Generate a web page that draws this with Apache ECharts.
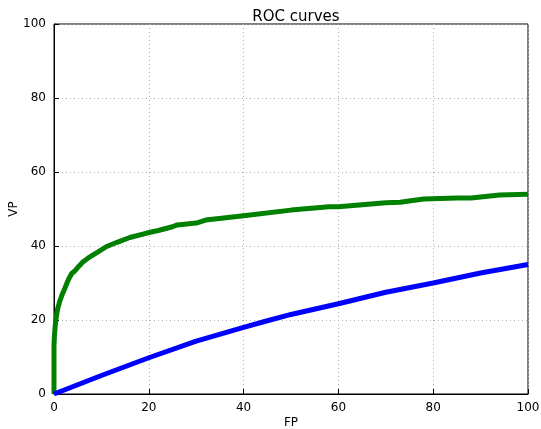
<!DOCTYPE html>
<html>
<head>
<meta charset="utf-8">
<script src="https://cdn.jsdelivr.net/npm/echarts@6/dist/echarts.min.js"></script>
<style>
  html, body { margin: 0; padding: 0; background: #fff; }
  #roc { width: 541px; height: 429px; }
</style>
</head>
<body>
<div id="roc"></div>
<script>
// FP (%) / VP (%)
const greenFP = [0, 0, 0.1, 0.3, 0.5, 0.8, 1.3, 1.8, 2.3, 3, 3.7, 4.5, 5.3, 6.1, 7.5, 9.3, 11, 13.3, 16, 19.6, 22, 25, 26, 30, 32, 40, 50, 58, 60, 70, 73, 78, 85, 88, 94, 100];
const greenVP = [0, 13, 16, 19, 21, 23.2, 25.4, 27.1, 28.6, 30.8, 32.5, 33.4, 34.6, 35.7, 37, 38.4, 39.8, 41, 42.3, 43.5, 44.2, 45.2, 45.7, 46.2, 47, 48.2, 49.7, 50.6, 50.6, 51.7, 51.8, 52.7, 53, 53, 53.8, 54];
const blueFP = [0, 5, 10, 20, 30, 40, 45, 50, 60, 70, 80, 90, 100];
const blueVP = [0, 2.5, 5, 9.8, 14.3, 18, 19.8, 21.5, 24.4, 27.5, 30, 32.7, 35];
const ticks = [0, 20, 40, 60, 80, 100];

function pairs(xs, ys) {
  return xs.map((x, i) => [x, ys[i]]);
}

const chart = echarts.init(document.getElementById('roc'));
const font = 'DejaVu Sans';

const axisCommon = {
  type: 'value',
  min: ticks[0],
  max: ticks[ticks.length - 1],
  interval: 20,
  nameLocation: 'middle',
  nameMoveOverlap: false,
  nameTextStyle: { color: '#000', fontSize: 12, fontFamily: font },
  axisLine: { show: true, lineStyle: { color: '#000', width: 1 } },
  axisTick: { show: true, inside: true, length: 5, lineStyle: { color: '#000' } },
  axisLabel: { color: '#000', fontSize: 12, fontFamily: font },
  splitLine: { show: true, lineStyle: { color: '#b0b0b0', type: [1, 3], width: 1 } }
};

chart.setOption({
  animation: false,
  title: {
    text: 'ROC curves',
    left: 291,
    top: 5,
    textAlign: 'center',
    textStyle: { color: '#000', fontSize: 15, fontWeight: 'normal', fontFamily: font }
  },
  grid: {
    left: 54, right: 13, top: 24, bottom: 35,
    containLabel: false,
    outerBoundsMode: 'none',
    show: true, borderColor: '#000', borderWidth: 1
  },
  xAxis: Object.assign({}, axisCommon, { name: 'FP', nameGap: 23 }),
  yAxis: Object.assign({}, axisCommon, { name: 'VP', nameGap: 34 }),
  series: [
    {
      type: 'line',
      data: pairs(greenFP, greenVP),
      showSymbol: false,
      lineStyle: { color: '#008000', width: 5 },
      itemStyle: { color: '#008000' }
    },
    {
      type: 'line',
      data: pairs(blueFP, blueVP),
      showSymbol: false,
      lineStyle: { color: '#0000ff', width: 5 },
      itemStyle: { color: '#0000ff' }
    }
  ]
});
</script>
</body>
</html>
